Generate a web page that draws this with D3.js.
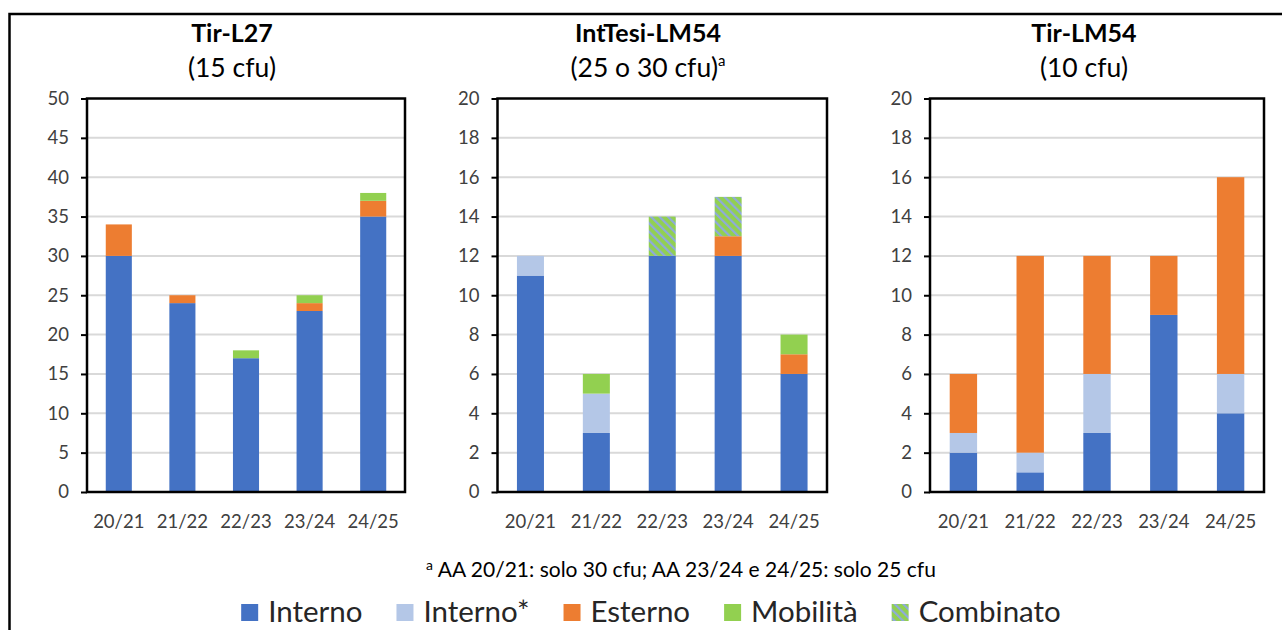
<!DOCTYPE html>
<html lang="it">
<head>
  <meta charset="UTF-8">
  <title>Tir-L27 / IntTesi-LM54 / Tir-LM54</title>
  <script src="https://cdn.jsdelivr.net/npm/d3@7"></script>
  <style>
    html, body { margin: 0; padding: 0; background: #fff; }
    svg { display: block; font-family: Lato, "Open Sans", sans-serif; }
    .grid line { stroke: #d9d9d9; stroke-width: 2; }
    .tick-label { fill: #404040; font-size: 18.5px; }
  </style>
</head>
<body>
  <svg id="chart" width="1282" height="630"></svg>

  <script>
    // categories
    const years = ["20/21", "21/22", "22/23", "23/24", "24/25"];
    const seriesNames = ["Interno", "Interno*", "Esterno", "Mobilità", "Combinato"];

    // Tir-L27 (15 cfu)
    const l27Interno    = [30, 24, 17, 23, 35];
    const l27InternoS   = [0, 0, 0, 0, 0];
    const l27Esterno    = [4, 1, 0, 1, 2];
    const l27Mobilita   = [0, 0, 1, 1, 1];
    const l27Combinato  = [0, 0, 0, 0, 0];

    // IntTesi-LM54 (25 o 30 cfu)
    const intInterno    = [11, 3, 12, 12, 6];
    const intInternoS   = [1, 2, 0, 0, 0];
    const intEsterno    = [0, 0, 0, 1, 1];
    const intMobilita   = [0, 1, 0, 0, 1];
    const intCombinato  = [0, 0, 2, 2, 0];

    // Tir-LM54 (10 cfu)
    const lm54Interno   = [2, 1, 3, 9, 4];
    const lm54InternoS  = [1, 1, 3, 0, 2];
    const lm54Esterno   = [3, 10, 6, 3, 10];
    const lm54Mobilita  = [0, 0, 0, 0, 0];
    const lm54Combinato = [0, 0, 0, 0, 0];

    // y ticks
    const ticksL27 = [0, 5, 10, 15, 20, 25, 30, 35, 40, 45, 50];
    const ticksLM  = [0, 2, 4, 6, 8, 10, 12, 14, 16, 18, 20];

    const colors = {
      "Interno": "#4472c4",
      "Interno*": "#b4c7e7",
      "Esterno": "#ed7d31",
      "Mobilità": "#92d050",
      "Combinato": "url(#combinato)"
    };

    const panels = [
      { title: "Tir-L27", sub: "(15 cfu)", sup: "", ticks: ticksL27,
        series: [l27Interno, l27InternoS, l27Esterno, l27Mobilita, l27Combinato],
        left: 87, right: 405, titleX: 232 },
      { title: "IntTesi-LM54", sub: "(25 o 30 cfu)", sup: "a", ticks: ticksLM,
        series: [intInterno, intInternoS, intEsterno, intMobilita, intCombinato],
        left: 497.5, right: 827, titleX: 648 },
      { title: "Tir-LM54", sub: "(10 cfu)", sup: "", ticks: ticksLM,
        series: [lm54Interno, lm54InternoS, lm54Esterno, lm54Mobilita, lm54Combinato],
        left: 930, right: 1264, titleX: 1084 }
    ];

    const plotTop = 98.5, plotBottom = 492;
    const svg = d3.select("#chart");

    // striped fill for "Combinato"
    svg.append("defs").append("pattern")
        .attr("id", "combinato")
        .attr("patternUnits", "userSpaceOnUse")
        .attr("width", 6).attr("height", 6)
        .attr("patternTransform", "rotate(-45)")
      .call(p => {
        p.append("rect").attr("width", 6).attr("height", 6).attr("fill", "#92d050");
        p.append("rect").attr("width", 2.2).attr("height", 6).attr("fill", "#8eaadb");
      });

    // outer frame (no right/bottom edge visible)
    svg.append("path")
      .attr("d", "M9.5,630 V14 H1282")
      .attr("fill", "none").attr("stroke", "#000").attr("stroke-width", 2.5);

    panels.forEach(p => {
      const g = svg.append("g");
      const x = d3.scaleBand().domain(years).range([p.left, p.right])
        .paddingInner(0.59).paddingOuter(0.295);
      const y = d3.scaleLinear().domain([0, d3.max(p.ticks)]).range([plotBottom, plotTop]);

      // gridlines
      g.append("g").attr("class", "grid")
        .selectAll("line").data(p.ticks.slice(1, -1)).join("line")
          .attr("x1", p.left).attr("x2", p.right)
          .attr("y1", d => y(d)).attr("y2", d => y(d));

      // stacked bars
      const rows = years.map((yr, i) => {
        const r = { year: yr };
        seriesNames.forEach((s, k) => r[s] = p.series[k][i]);
        return r;
      });
      const stacked = d3.stack().keys(seriesNames)(rows);
      g.append("g").selectAll("g").data(stacked).join("g")
          .attr("fill", d => colors[d.key])
        .selectAll("rect").data(d => d.filter(v => v[1] > v[0])).join("rect")
          .attr("x", d => x(d.data.year))
          .attr("width", x.bandwidth())
          .attr("y", d => y(d[1]))
          .attr("height", d => y(d[0]) - y(d[1]));

      // plot frame
      g.append("rect")
        .attr("x", p.left).attr("y", plotTop)
        .attr("width", p.right - p.left).attr("height", plotBottom - plotTop)
        .attr("fill", "none").attr("stroke", "#000").attr("stroke-width", 2.5);

      // y axis
      const yAxis = g.append("g")
        .attr("transform", `translate(${p.left},0)`)
        .call(d3.axisLeft(y).tickValues(p.ticks).tickSize(6).tickPadding(12).tickFormat(d3.format("d")));
      yAxis.select(".domain").remove();
      yAxis.selectAll(".tick line").attr("stroke", "#000").attr("stroke-width", 2);
      yAxis.selectAll(".tick text").attr("class", "tick-label");
      yAxis.attr("font-family", null).attr("font-size", null);

      // x labels
      g.append("g").selectAll("text").data(years).join("text")
        .attr("class", "tick-label")
        .attr("x", d => x(d) + x.bandwidth() / 2)
        .attr("y", 528)
        .attr("text-anchor", "middle")
        .text(d => d);

      // titles
      g.append("text")
        .attr("x", p.titleX).attr("y", 41.5)
        .attr("text-anchor", "middle")
        .attr("font-size", 25).attr("font-weight", "bold")
        .text(p.title);
      const sub = g.append("text")
        .attr("x", p.titleX).attr("y", 77)
        .attr("text-anchor", "middle")
        .attr("font-size", 26.5);
      sub.append("tspan").text(p.sub);
      if (p.sup) sub.append("tspan").attr("font-size", 15).attr("dy", -11).text(p.sup);
    });

    // footnote
    const note = svg.append("text")
      .attr("x", 681).attr("y", 577)
      .attr("text-anchor", "middle")
      .attr("font-size", 21);
    note.append("tspan").attr("font-size", 14).attr("dy", -7).text("a");
    note.append("tspan").attr("dy", 7).text(" AA 20/21: solo 30 cfu; AA 23/24 e 24/25: solo 25 cfu");

    // legend
    const legend = svg.append("g");
    let lx = 0;
    seriesNames.forEach(s => {
      const item = legend.append("g").attr("transform", `translate(${lx},0)`);
      item.append("rect")
        .attr("x", 0).attr("y", 604).attr("width", 17).attr("height", 17)
        .attr("fill", colors[s]);
      const t = item.append("text")
        .attr("x", 27).attr("y", 621.5)
        .attr("font-size", 29.5).attr("fill", "#262626")
        .text(s);
      lx += 27 + t.node().getComputedTextLength() + 34;
    });
    const lw = lx - 34;
    legend.attr("transform", `translate(${651 - lw / 2},0)`);
  </script>
</body>
</html>
